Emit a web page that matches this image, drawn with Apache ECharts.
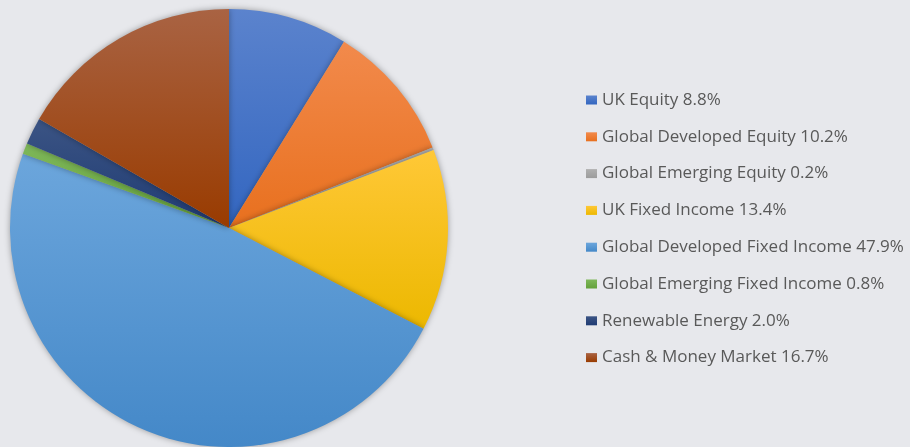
<!DOCTYPE html>
<html>
<head>
<meta charset="utf-8">
<script src="https://cdn.jsdelivr.net/npm/echarts@6/dist/echarts.min.js"></script>
<style>
  html, body { margin: 0; padding: 0; background: #e7e8ec; }
  #main { width: 910px; height: 447px; }
</style>
</head>
<body>
<div id="main"></div>
<script>
var names = ['UK Equity', 'Global Developed Equity', 'Global Emerging Equity', 'UK Fixed Income',
  'Global Developed Fixed Income', 'Global Emerging Fixed Income', 'Renewable Energy', 'Cash & Money Market'];
var values = [8.8, 10.2, 0.2, 13.4, 47.9, 0.8, 2.0, 16.7];
// top / bottom gradient colours per slice
var topColors = ['#5b83cd', '#f28a4c', '#b0b0b0', '#ffc837', '#6ca6dc', '#7fb85a', '#3b5484', '#a96343'];
var bottomColors = ['#3366c0', '#e8701e', '#9c9c9c', '#ecb800', '#4488c8', '#63a03a', '#1f3b73', '#993b00'];

var myChart = echarts.init(document.getElementById('main'));

var pieData = names.map(function (n, i) {
  return {
    name: n,
    value: values[i],
    itemStyle: {
      color: new echarts.graphic.LinearGradient(0, 0, 0, 1, [
        { offset: 0, color: topColors[i] },
        { offset: 1, color: bottomColors[i] }
      ])
    }
  };
});

var option = {
  backgroundColor: '#e7e8ec',
  animation: false,
  legend: {
    orient: 'vertical',
    left: 586,
    top: 90,
    padding: 0,
    itemWidth: 11,
    itemHeight: 9,
    itemGap: 16.8,
    icon: 'rect',
    data: names.map(function (n, i) {
      return {
        name: n,
        itemStyle: {
          color: new echarts.graphic.LinearGradient(0, 0, 0, 1, [
            { offset: 0, color: topColors[i] },
            { offset: 1, color: bottomColors[i] }
          ])
        }
      };
    }),
    formatter: function (name) {
      var i = names.indexOf(name);
      return name + ' ' + values[i].toFixed(1) + '%';
    },
    textStyle: {
      color: '#595959',
      fontFamily: 'Open Sans',
      fontSize: 17,
      lineHeight: 20,
      padding: [0, 0, 0, 0]
    }
  },
  series: [{
    type: 'pie',
    center: [229, 228],
    radius: 219,
    startAngle: 90,
    clockwise: true,
    label: { show: false },
    labelLine: { show: false },
    emphasis: { disabled: true },
    itemStyle: {
      borderWidth: 0,
      shadowBlur: 6,
      shadowColor: 'rgba(0,0,0,0.35)'
    },
    data: pieData
  }]
};

myChart.setOption(option);
</script>
</body>
</html>
